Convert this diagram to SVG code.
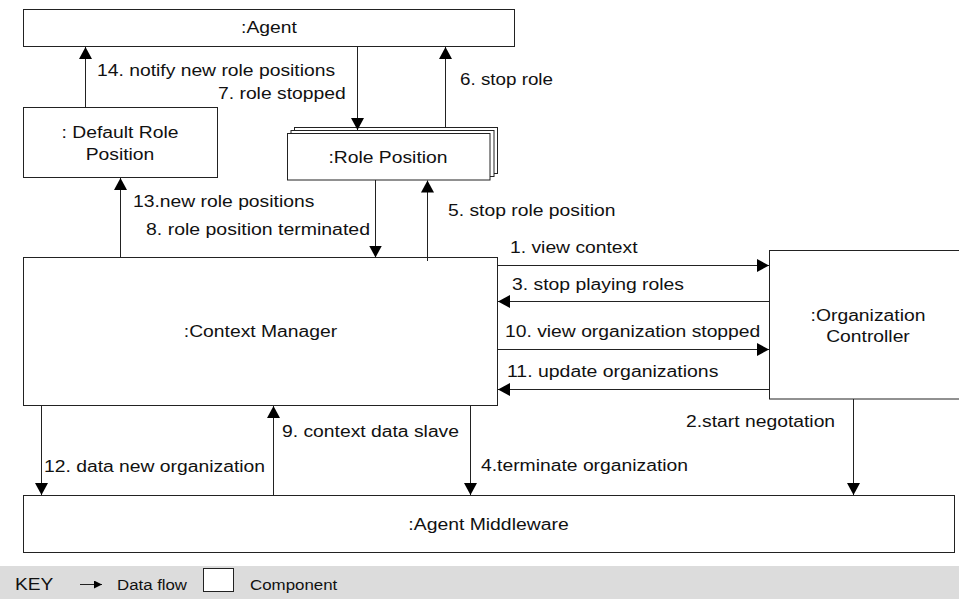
<svg xmlns="http://www.w3.org/2000/svg" width="959" height="599" viewBox="0 0 959 599">
<style>
.box{fill:#fff;stroke:#222;stroke-width:1}
.ln{stroke:#222;stroke-width:1;fill:none}
text{font-family:"Liberation Sans",Arial,sans-serif;font-size:16px;fill:#111}
.c{text-anchor:middle}
.k{font-size:14px}
</style>
<defs>
<marker id="ah" markerUnits="userSpaceOnUse" markerWidth="13" markerHeight="14" refX="12" refY="6.5" orient="auto">
<path d="M0,0 L12,6.5 L0,13 z" fill="#000"/>
</marker>
<marker id="ahs" markerUnits="userSpaceOnUse" markerWidth="9" markerHeight="9" refX="8" refY="4" orient="auto">
<path d="M0,0 L8,4 L0,8 z" fill="#000"/>
</marker>
</defs>
<g id="agent">
<rect class="box" x="23.5" y="9.5" width="491" height="37"/>
<text class="c" x="269" y="33" textLength="55.8" lengthAdjust="spacingAndGlyphs">:Agent</text>
</g>
<g id="default-role-position">
<rect class="box" x="23.5" y="107.5" width="194" height="70"/>
<text class="c" x="120" y="138" textLength="116.9" lengthAdjust="spacingAndGlyphs">: Default Role</text>
<text class="c" x="120" y="160" textLength="68.7" lengthAdjust="spacingAndGlyphs">Position</text>
</g>
<g id="role-position">
<rect class="box" x="294.5" y="127.5" width="203" height="46"/>
<rect class="box" x="291" y="130.5" width="203" height="46"/>
<rect class="box" x="287.5" y="133.5" width="202.5" height="46.5"/>
<text class="c" x="388" y="163" textLength="119.1" lengthAdjust="spacingAndGlyphs">:Role Position</text>
</g>
<g id="context-manager">
<rect class="box" x="23.5" y="257.5" width="474" height="148"/>
<text class="c" x="260.5" y="337" textLength="153.4" lengthAdjust="spacingAndGlyphs">:Context Manager</text>
</g>
<g id="organization-controller">
<rect class="box" x="769.5" y="250.5" width="200" height="148.5"/>
<text class="c" x="868" y="321" textLength="114.8" lengthAdjust="spacingAndGlyphs">:Organization</text>
<text class="c" x="868" y="342" textLength="83.6" lengthAdjust="spacingAndGlyphs">Controller</text>
</g>
<g id="agent-middleware">
<rect class="box" x="23.5" y="495.5" width="931" height="57"/>
<text class="c" x="488.5" y="530" textLength="160.3" lengthAdjust="spacingAndGlyphs">:Agent Middleware</text>
</g>
<g id="connectors">
<line class="ln" x1="85.5" y1="107.5" x2="85.5" y2="47" marker-end="url(#ah)"/>
<line class="ln" x1="357.5" y1="46.5" x2="357.5" y2="130" marker-end="url(#ah)"/>
<line class="ln" x1="445.5" y1="127.5" x2="445.5" y2="47" marker-end="url(#ah)"/>
<line class="ln" x1="120.5" y1="257.5" x2="120.5" y2="178" marker-end="url(#ah)"/>
<line class="ln" x1="375.5" y1="180" x2="375.5" y2="257.5" marker-end="url(#ah)"/>
<line class="ln" x1="427.5" y1="261" x2="427.5" y2="180.5" marker-end="url(#ah)"/>
<line class="ln" x1="497.5" y1="265.5" x2="769" y2="265.5" marker-end="url(#ah)"/>
<line class="ln" x1="769.5" y1="301.5" x2="498" y2="301.5" marker-end="url(#ah)"/>
<line class="ln" x1="497.5" y1="349.5" x2="769" y2="349.5" marker-end="url(#ah)"/>
<line class="ln" x1="769.5" y1="389.5" x2="498" y2="389.5" marker-end="url(#ah)"/>
<line class="ln" x1="41.5" y1="405.5" x2="41.5" y2="495" marker-end="url(#ah)"/>
<line class="ln" x1="273.5" y1="495.5" x2="273.5" y2="406" marker-end="url(#ah)"/>
<line class="ln" x1="470.5" y1="405.5" x2="470.5" y2="495" marker-end="url(#ah)"/>
<line class="ln" x1="853.5" y1="399" x2="853.5" y2="495" marker-end="url(#ah)"/>
<text x="97" y="76" textLength="238.1" lengthAdjust="spacingAndGlyphs">14. notify new role positions</text>
<text x="218" y="99" textLength="127.7" lengthAdjust="spacingAndGlyphs">7. role stopped</text>
<text x="460" y="85" textLength="93" lengthAdjust="spacingAndGlyphs">6. stop role</text>
<text x="133" y="207" textLength="181.3" lengthAdjust="spacingAndGlyphs">13.new role positions</text>
<text x="146" y="235" textLength="224" lengthAdjust="spacingAndGlyphs">8. role position terminated</text>
<text x="448" y="216" textLength="167.4" lengthAdjust="spacingAndGlyphs">5. stop role position</text>
<text x="510" y="253" textLength="127.6" lengthAdjust="spacingAndGlyphs">1. view context</text>
<text x="512" y="290" textLength="172" lengthAdjust="spacingAndGlyphs">3. stop playing roles</text>
<text x="505" y="337" textLength="255.3" lengthAdjust="spacingAndGlyphs">10. view organization stopped</text>
<text x="507" y="377" textLength="211.4" lengthAdjust="spacingAndGlyphs">11. update organizations</text>
<text x="686" y="427" textLength="149.1" lengthAdjust="spacingAndGlyphs">2.start negotation</text>
<text x="44" y="472" textLength="221" lengthAdjust="spacingAndGlyphs">12. data new organization</text>
<text x="282" y="437" textLength="177" lengthAdjust="spacingAndGlyphs">9. context data slave</text>
<text x="481" y="471" textLength="207" lengthAdjust="spacingAndGlyphs">4.terminate organization</text>
</g>
<g id="key">
<rect x="0" y="566" width="959" height="33" fill="#dcdcdc"/>
<text x="15" y="590" textLength="38.3" lengthAdjust="spacingAndGlyphs">KEY</text>
<line class="ln" x1="80" y1="584.5" x2="102" y2="584.5" marker-end="url(#ahs)"/>
<text class="k" x="117" y="590" textLength="70" lengthAdjust="spacingAndGlyphs">Data flow</text>
<rect class="box" x="203.5" y="568.5" width="30" height="23"/>
<text class="k" x="250" y="590" textLength="87.3" lengthAdjust="spacingAndGlyphs">Component</text>
</g>
</svg>
